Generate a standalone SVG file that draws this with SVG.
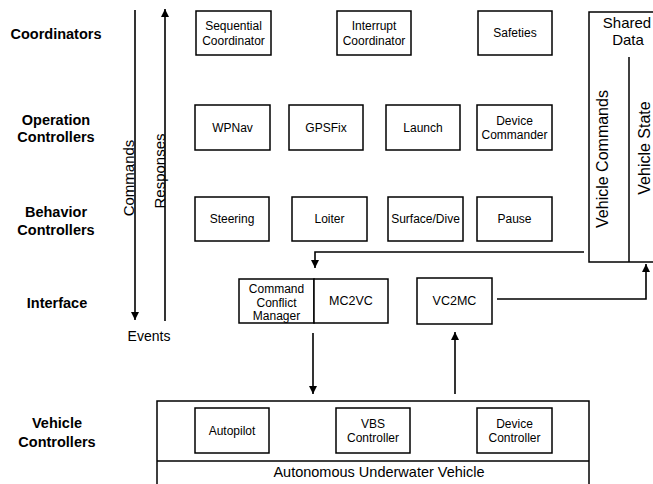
<svg xmlns="http://www.w3.org/2000/svg" width="653" height="484" viewBox="0 0 653 484">
<style>
  .bx{fill:#fff;stroke:#000;stroke-width:1.5}
  .t{font-family:"Liberation Sans",Arial,sans-serif;font-size:12px;fill:#000;text-anchor:middle}
  .lbl{font-family:"Liberation Sans",Arial,sans-serif;font-size:14.5px;font-weight:bold;fill:#000;text-anchor:middle}
  .big{font-family:"Liberation Sans",Arial,sans-serif;font-size:15px;fill:#000;text-anchor:middle}
  .cn{fill:none;stroke:#000;stroke-width:1.6}
</style>
<defs>
  <marker id="ah" viewBox="0 0 10 10" refX="10" refY="5" markerWidth="5.5" markerHeight="5" orient="auto" markerUnits="strokeWidth">
    <path d="M0,0 L10,5 L0,10 z" fill="#000"/>
  </marker>
</defs>
<rect width="653" height="484" fill="#fff"/>

<g id="layer-labels">
  <text class="lbl" x="56" y="39">Coordinators</text>
  <text class="lbl" x="56" y="125">Operation</text>
  <text class="lbl" x="56" y="142">Controllers</text>
  <text class="lbl" x="56" y="217">Behavior</text>
  <text class="lbl" x="56" y="235">Controllers</text>
  <text class="lbl" x="57" y="308">Interface</text>
  <text class="lbl" x="57" y="428">Vehicle</text>
  <text class="lbl" x="57" y="447">Controllers</text>
</g>

<g id="connectors">
  <line class="cn" x1="135" y1="10" x2="135" y2="320" marker-end="url(#ah)"/>
  <line class="cn" x1="165" y1="321" x2="165" y2="9" marker-end="url(#ah)"/>
  <polyline class="cn" points="584,252 315,252 315,268" marker-end="url(#ah)"/>
  <polyline class="cn" points="497,299 646,299 646,264" marker-end="url(#ah)"/>
  <line class="cn" x1="313" y1="333" x2="313" y2="394" marker-end="url(#ah)"/>
  <line class="cn" x1="455" y1="394" x2="455" y2="332" marker-end="url(#ah)"/>
  <text class="big" transform="translate(134,178) rotate(-90)">Commands</text>
  <text class="big" transform="translate(165,171) rotate(-90)">Responses</text>
  <text class="big" x="149" y="341" style="font-size:14px">Events</text>
</g>

<g id="sequential-coordinator">
  <rect class="bx" x="196" y="11" width="75" height="44"/>
  <text class="t" x="233.5" y="30">Sequential</text>
  <text class="t" x="233.5" y="44.5">Coordinator</text>
</g>
<g id="interrupt-coordinator">
  <rect class="bx" x="337" y="11" width="74" height="44"/>
  <text class="t" x="374" y="30">Interrupt</text>
  <text class="t" x="374" y="44.5">Coordinator</text>
</g>
<g id="safeties">
  <rect class="bx" x="478" y="11" width="74" height="44"/>
  <text class="t" x="515" y="37">Safeties</text>
</g>

<g id="wpnav">
  <rect class="bx" x="195" y="105" width="75" height="45"/>
  <text class="t" x="232.5" y="131.5">WPNav</text>
</g>
<g id="gpsfix">
  <rect class="bx" x="289" y="105" width="74" height="45"/>
  <text class="t" x="326" y="131.5">GPSFix</text>
</g>
<g id="launch">
  <rect class="bx" x="386" y="105" width="74" height="45"/>
  <text class="t" x="423" y="131.5">Launch</text>
</g>
<g id="device-commander">
  <rect class="bx" x="477" y="105" width="75" height="45"/>
  <text class="t" x="514.5" y="124.5">Device</text>
  <text class="t" x="514.5" y="139">Commander</text>
</g>

<g id="steering">
  <rect class="bx" x="195" y="197" width="74" height="44"/>
  <text class="t" x="232" y="223">Steering</text>
</g>
<g id="loiter">
  <rect class="bx" x="292" y="197" width="75" height="44"/>
  <text class="t" x="329.5" y="223">Loiter</text>
</g>
<g id="surface-dive">
  <rect class="bx" x="388" y="197" width="75" height="44"/>
  <text class="t" x="425.5" y="223">Surface/Dive</text>
</g>
<g id="pause">
  <rect class="bx" x="477" y="197" width="75" height="44"/>
  <text class="t" x="514.5" y="223">Pause</text>
</g>

<g id="shared-data">
  <rect class="bx" x="589" y="12" width="80" height="250"/>
  <line x1="629" y1="57" x2="629" y2="262" stroke="#000" stroke-width="1.5"/>
  <text class="big" x="627" y="28">Shared</text>
  <text class="big" x="628" y="45">Data</text>
  <text class="big" style="font-size:16px" transform="translate(608,159) rotate(-90)">Vehicle Commands</text>
  <text class="big" style="font-size:16px" transform="translate(650,148) rotate(-90)">Vehicle State</text>
</g>

<g id="command-conflict-manager">
  <rect class="bx" x="239" y="279" width="75" height="44"/>
  <text class="t" x="276.5" y="293">Command</text>
  <text class="t" x="276.5" y="306.5">Conflict</text>
  <text class="t" x="276.5" y="320">Manager</text>
</g>
<g id="mc2vc">
  <rect class="bx" x="314" y="279" width="74" height="44"/>
  <text class="t" x="351" y="305" style="font-size:12.5px">MC2VC</text>
</g>
<g id="vc2mc">
  <rect class="bx" x="417" y="278" width="75" height="46"/>
  <text class="t" x="454.5" y="305" style="font-size:12.5px">VC2MC</text>
</g>

<g id="auv">
  <rect class="bx" x="157" y="401" width="432" height="90"/>
  <line x1="157" y1="461" x2="589" y2="461" stroke="#000" stroke-width="1.5"/>
  <text class="big" x="379" y="477" style="font-size:14.5px">Autonomous Underwater Vehicle</text>
</g>
<g id="autopilot">
  <rect class="bx" x="195" y="408" width="74" height="45"/>
  <text class="t" x="232" y="434.5">Autopilot</text>
</g>
<g id="vbs-controller">
  <rect class="bx" x="336" y="408" width="74" height="45"/>
  <text class="t" x="373" y="427.5">VBS</text>
  <text class="t" x="373" y="442">Controller</text>
</g>
<g id="device-controller">
  <rect class="bx" x="477" y="408" width="75" height="45"/>
  <text class="t" x="514.5" y="427.5">Device</text>
  <text class="t" x="514.5" y="442">Controller</text>
</g>
</svg>
